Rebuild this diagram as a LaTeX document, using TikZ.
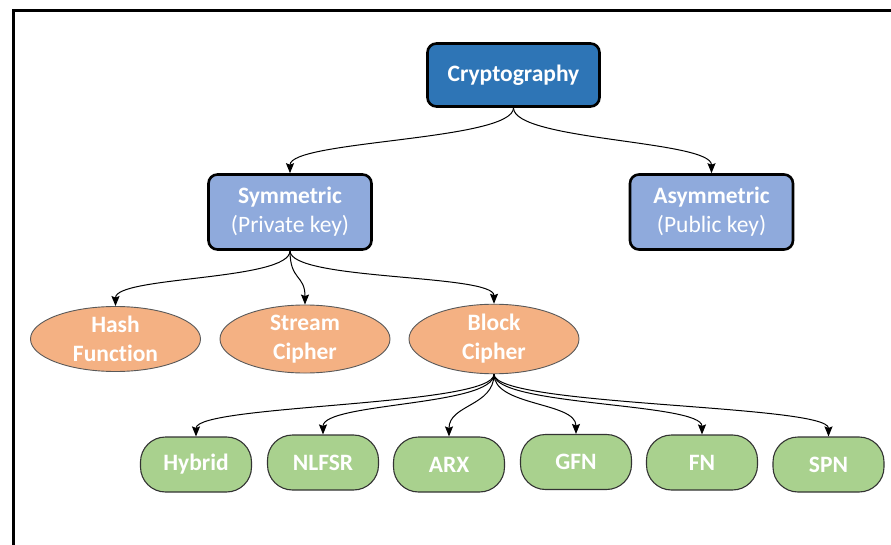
\documentclass[tikz,border=0pt]{standalone}
\usepackage{fontspec}
\setmainfont{Carlito}[Ligatures=NoCommon]
\usetikzlibrary{shapes.geometric,arrows.meta}
\definecolor{rootblue}{HTML}{2E75B6}
\definecolor{lightblue}{HTML}{8FAADC}
\definecolor{peach}{HTML}{F4B183}
\definecolor{leafgreen}{HTML}{A9D18E}
\begin{document}
\begin{tikzpicture}[x=1pt,y=-1pt,
  txt/.style={text=white,align=center,inner sep=0pt,font=\fontsize{23.5}{29}\selectfont\bfseries},
  topbox/.style={txt,draw=black,line width=2.6pt,rounded corners=9pt},
  rootbox/.style={topbox,fill=rootblue,minimum width=172pt,minimum height=63pt},
  keybox/.style={topbox,fill=lightblue,minimum width=163pt,minimum height=75pt},
  oval/.style={txt,ellipse,draw=black!65,line width=0.9pt,fill=peach,minimum width=170pt,minimum height=65pt},
  leaf/.style={txt,draw=black!80,line width=1.1pt,fill=leafgreen,rounded corners=25pt,minimum width=111pt,minimum height=55pt},
  conn/.style={line width=1pt,-{Stealth[length=10pt,width=8pt,inset=1.5pt]}}
]
\useasboundingbox (0,0) rectangle (891,545);
\draw[line width=3pt] (13,545) -- (13,11) -- (891,11);

\node[rootbox] (crypto) at (513.5,75) {Cryptography};
\node[keybox] (sym) at (290,212) {Symmetric\\\mdseries(Private key)};
\node[keybox] (asym) at (711.5,212) {Asymmetric\\\mdseries(Public key)};

\node[oval] (hash) at (115.5,339) {Hash\\Function};
\node[oval] (stream) at (305,339) {Stream\\Cipher};
\node[oval] (block) at (494,339) {Block\\Cipher};

\node[leaf] (hybrid) at (196,464.5) {Hybrid};
\node[leaf] (nlfsr) at (323,462.5) {NLFSR};
\node[leaf] (arx) at (449,464.5) {ARX};
\node[leaf] (gfn) at (576,462) {GFN};
\node[leaf] (fn) at (702,462.5) {FN};
\node[leaf] (spn) at (828.5,464.5) {SPN};

\draw[conn] (crypto.south) .. controls +(0,33) and +(0,-33) .. (sym.north);
\draw[conn] (crypto.south) .. controls +(0,33) and +(0,-33) .. (asym.north);

\draw[conn] (sym.south) .. controls +(0,30) and +(0,-30) .. (hash.north);
\draw[conn] (sym.south) .. controls +(0,30) and +(0,-30) .. (stream.north);
\draw[conn] (sym.south) .. controls +(0,30) and +(0,-30) .. (block.north);

\foreach \t in {hybrid,nlfsr,arx,gfn,fn,spn}
  \draw[conn] (block.south) .. controls +(0,32) and +(0,-32) .. (\t.north);
\end{tikzpicture}
\end{document}
